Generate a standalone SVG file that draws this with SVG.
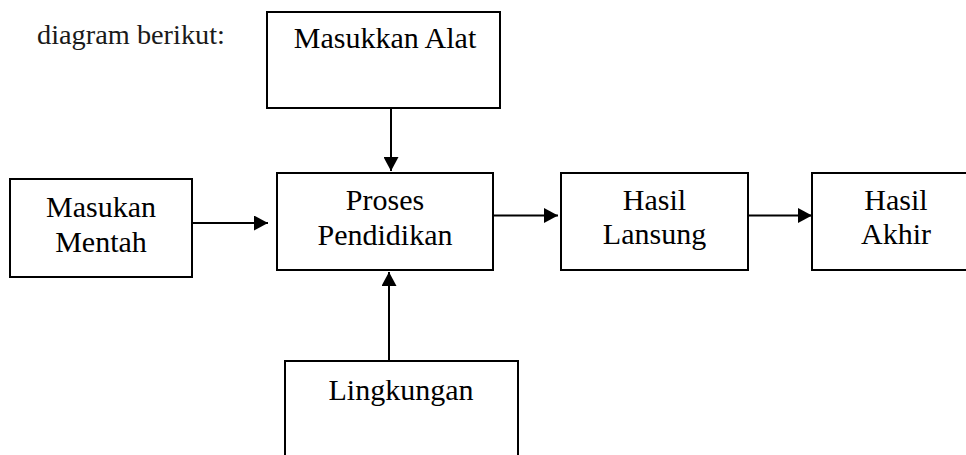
<svg xmlns="http://www.w3.org/2000/svg" width="966" height="455" viewBox="0 0 966 455">
<style>
.box{fill:#fff;stroke:#000;stroke-width:2}
.lbl{font-family:"Liberation Serif","Times New Roman",serif;font-size:30px;fill:#000;text-anchor:middle}
.cap{font-family:"Liberation Serif","Times New Roman",serif;font-size:27px;fill:#1a1a1a}
.conn{stroke:#000;stroke-width:2;fill:none;marker-end:url(#ah)}
</style>
<defs>
<marker id="ah" markerUnits="userSpaceOnUse" markerWidth="14" markerHeight="15" viewBox="0 0 14 15" refX="14" refY="7.5" orient="auto">
<path d="M0,0 L14,7.5 L0,15 Z" fill="#000"/>
</marker>
</defs>
<rect width="966" height="455" fill="#fff"/>
<text class="cap" x="37" y="44" textLength="188" lengthAdjust="spacingAndGlyphs">diagram berikut:</text>
<g id="connectors">
<line class="conn" x1="391" y1="108" x2="391" y2="171"/>
<line class="conn" x1="192" y1="223" x2="268" y2="223"/>
<line class="conn" x1="493" y1="215.5" x2="558" y2="215.5"/>
<line class="conn" x1="748" y1="215.5" x2="812" y2="215.5"/>
<line class="conn" x1="389" y1="361" x2="389" y2="272"/>
</g>
<g id="masukkan-alat">
<rect class="box" x="267" y="12" width="233" height="96"/>
<text class="lbl" x="385" y="48">Masukkan Alat</text>
</g>
<g id="masukan-mentah">
<rect class="box" x="10" y="179" width="182" height="98"/>
<text class="lbl" x="101" y="217">Masukan</text>
<text class="lbl" x="101" y="252">Mentah</text>
</g>
<g id="proses-pendidikan">
<rect class="box" x="277" y="173" width="216" height="97"/>
<text class="lbl" x="385" y="210">Proses</text>
<text class="lbl" x="385" y="245">Pendidikan</text>
</g>
<g id="hasil-lansung">
<rect class="box" x="561" y="173" width="187" height="97"/>
<text class="lbl" x="654.5" y="210">Hasil</text>
<text class="lbl" x="654.5" y="244">Lansung</text>
</g>
<g id="hasil-akhir">
<rect class="box" x="812" y="173" width="168" height="97"/>
<text class="lbl" x="896" y="210">Hasil</text>
<text class="lbl" x="896" y="244">Akhir</text>
</g>
<g id="lingkungan">
<rect class="box" x="285" y="361" width="233" height="110"/>
<text class="lbl" x="401" y="400">Lingkungan</text>
</g>
</svg>
